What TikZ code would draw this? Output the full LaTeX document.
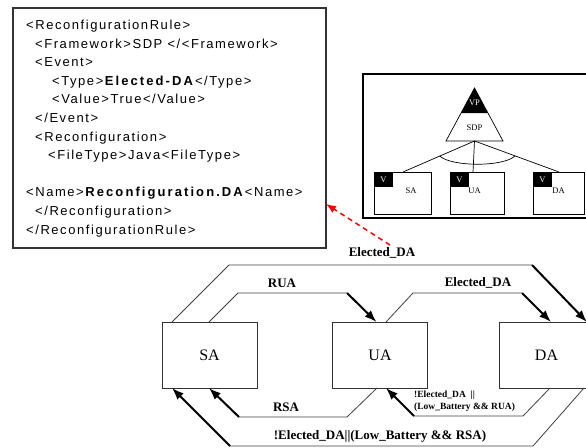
\documentclass[tikz,border=0pt]{standalone}
\usepackage{fontspec}
\setmainfont{Liberation Serif}
\newfontfamily\xmlfont[LetterSpace=12,BoldFeatures={LetterSpace=16}]{Liberation Sans}
\usetikzlibrary{arrows.meta}
\begin{document}
\begin{tikzpicture}[x=1pt,y=-1pt,
  xmlline/.style={anchor=base west, inner sep=0pt, font=\xmlfont\fontsize{13}{15}\selectfont},
  state/.style={draw=black!80, line width=0.8pt, minimum width=95pt, minimum height=66pt, inner sep=0pt, outer sep=0pt, font=\fontsize{16}{18}\selectfont},
  thinline/.style={draw=black!75, line width=0.8pt},
  arr/.style={draw=black, line width=2pt, -{Latex[length=12pt,width=9pt]}},
  lbl/.style={font=\bfseries\fontsize{13}{15}\selectfont, inner sep=0pt},
  child/.style={draw, line width=0.7pt, minimum height=42pt, inner sep=0pt, outer sep=0pt, anchor=north west},
  tiny/.style={font=\fontsize{8.5}{10}\selectfont, inner sep=0pt}]
\useasboundingbox (0,0) rectangle (586,447);

% XML box
\node[draw=black!80, line width=1.3pt, minimum width=313pt, minimum height=240pt, inner sep=0pt, outer sep=0pt] (xml) at (169.5,128) {};
\node[xmlline] (x0) at (26,29.5) {<ReconfigurationRule>};
\node[xmlline] (x1) at (35,48.1) {<Framework>SDP </<Framework>};
\node[xmlline] (x2) at (35,66.7) {<Event>};
\node[xmlline] (x3) at (52,85.3) {<Type>\textbf{Elected-DA}</Type>};
\node[xmlline] (x4) at (52,103.9) {<Value>True</Value>};
\node[xmlline] (x5) at (35,122.5) {</Event>};
\node[xmlline] (x6) at (35,141.1) {<Reconfiguration>};
\node[xmlline] (x7) at (48,159.7) {<FileType>Java<FileType>};
\node[xmlline] (x9) at (26,196.9) {<Name>\textbf{Reconfiguration.DA}<Name>};
\node[xmlline] (x10) at (35,215.5) {</Reconfiguration>};
\node[xmlline] (x11) at (26,234.1) {</ReconfigurationRule>};

% right panel
\node[draw, line width=1.2pt, minimum width=229pt, minimum height=144pt, anchor=north west, inner sep=0pt, outer sep=0pt] (panel) at (363,74) {};
\coordinate (apex) at (474.5,88);
\coordinate (tribase) at (474.5,141);
\fill (apex) -- (487.9,113) -- (461.1,113) -- cycle;
\draw[line width=0.7pt] (apex) -- (503,141) -- (446,141) -- cycle;
\node[tiny, text=white] (vp) at (474.5,103) {VP};
\node[tiny] (sdp) at (474.5,128) {SDP};
\node[child, minimum width=57pt] (cSA) at (374,172) {};
\node[child, minimum width=54pt] (cUA) at (450,172) {};
\node[child, minimum width=51pt] (cDA) at (533,172) {};
\fill (cSA.north west) rectangle ++(19,15);
\fill (cUA.north west) rectangle ++(19,15);
\fill (cDA.north west) rectangle ++(19,15);
\node[tiny, text=white] (vSA) at (383.5,179.5) {V};
\node[tiny, text=white] (vUA) at (459.5,179.5) {V};
\node[tiny, text=white] (vDA) at (542.5,179.5) {V};
\node[tiny] (tSA) at (411,191) {SA};
\node[tiny] (tUA) at (474.5,191) {UA};
\node[tiny] (tDA) at (558.5,191) {DA};
\draw[line width=0.7pt] (tribase) -- ([xshift=29pt]cSA.north west);
\draw[line width=0.7pt] (tribase) -- ([xshift=23pt]cUA.north west);
\draw[line width=0.7pt] (tribase) -- ([xshift=26pt]cDA.north west);
\draw[line width=0.7pt] (439.6,156) .. controls (452,167) and (503,167) .. (515,156);

% state machine
\node[state] (SA) at (209.5,355) {SA};
\node[state] (UA) at (380,355) {UA};
\node[state] (DA) at (546.5,355) {DA};

\coordinate (o1) at (229,265); \coordinate (o2) at (532,265);
\draw[thinline] ([xshift=10pt]SA.north west) -- (o1) -- (o2);
\draw[arr] (o2) -- ([xshift=88pt]DA.north west);

\coordinate (c1) at (238,293); \coordinate (c2) at (347,293);
\draw[thinline] ([xshift=47pt]SA.north west) -- (c1) -- (c2);
\draw[arr] (c2) -- ([xshift=44pt]UA.north west);

\coordinate (d1) at (413,293); \coordinate (d2) at (522,293);
\draw[thinline] ([xshift=53.5pt]UA.north west) -- (d1) -- (d2);
\draw[arr] (d2) -- ([xshift=52pt]DA.north west);

\coordinate (e1) at (347,417); \coordinate (e2) at (239,417);
\draw[thinline] ([xshift=44.5pt]UA.south west) -- (e1) -- (e2);
\draw[arr] (e2) -- ([xshift=47pt]SA.south west);

\coordinate (f1) at (523,416); \coordinate (f2) at (414,416);
\draw[thinline] ([xshift=51pt]DA.south west) -- (f1) -- (f2);
\draw[arr] (f2) -- ([xshift=53.5pt]UA.south west);

\coordinate (g1) at (533,446); \coordinate (g2) at (230,446);
\draw[thinline] ([xshift=85pt]DA.south west) -- (g1) -- (g2);
\draw[arr] (g2) -- ([xshift=10pt]SA.south west);

\node[lbl] (ltop) at (382,253) {Elected\_DA};
\node[lbl] (lrua) at (282,283) {RUA};
\node[lbl] (led) at (478,283) {Elected\_DA};
\node[lbl] (lrsa) at (286,407) {RSA};
\node[lbl] (lbot) at (380,436) {!Elected\_DA||(Low\_Battery \&\& RSA)};
\node[anchor=west, align=left, inner sep=0pt, font=\bfseries\fontsize{9.5}{12.5}\selectfont] (lsmall) at (414,401) {!Elected\_DA~~||\\(Low\_Battery \&\& RUA)};

% red dashed arrow
\coordinate (rtail) at (390,245);
\draw[red, line width=1.5pt, dash pattern=on 5pt off 4pt, -{Latex[length=10pt,width=8pt]}] (rtail) -- (xml.east |- 0,204);
\end{tikzpicture}
\end{document}
